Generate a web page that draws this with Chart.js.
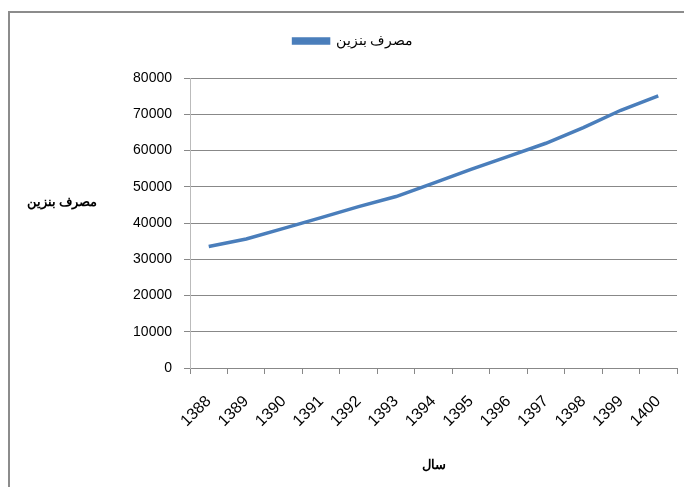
<!DOCTYPE html>
<html>
<head>
<meta charset="utf-8">
<script src="https://cdn.jsdelivr.net/npm/chart.js@4.4.1/dist/chart.umd.min.js"></script>
<style>
html,body{margin:0;padding:0;background:#fff;}
#wrap{width:684px;height:487px;position:relative;}
</style>
</head>
<body>
<div id="wrap"><canvas id="c" width="684" height="487"></canvas></div>
<script>
const years = ['1388','1389','1390','1391','1392','1393','1394','1395','1396','1397','1398','1399','1400'];
const consumption = [33500, 35600, 38500, 41500, 44500, 47300, 51000, 54800, 58400, 62000, 66300, 71100, 75100];
const seriesName = 'مصرف بنزین';
const yTitle = 'مصرف بنزین';
const xTitle = 'سال';

const FONT = "'Liberation Sans', Arial, sans-serif";

const decor = {
  id: 'decor',
  beforeInit(chart) {
    const lg = chart.legend;
    if (lg) {
      const fit = lg.fit.bind(lg);
      lg.fit = function() { fit(); this.height = 78; };
    }
  },
  afterDraw(chart) {
    const ctx = chart.ctx;
    ctx.save();
    ctx.strokeStyle = '#8c8c8c';
    ctx.lineWidth = 2;
    ctx.beginPath();
    ctx.moveTo(9, 487);
    ctx.lineTo(9, 12);
    ctx.lineTo(684, 12);
    ctx.stroke();
    ctx.fillStyle = '#000';
    ctx.font = "bold 13px " + FONT;
    ctx.textAlign = 'center';
    ctx.textBaseline = 'middle';
    ctx.fillText(yTitle, 62, 202);
    ctx.restore();
  }
};

new Chart(document.getElementById('c'), {
  type: 'line',
  data: {
    labels: years,
    datasets: [{
      label: seriesName,
      data: consumption,
      borderColor: '#4a7ebb',
      backgroundColor: '#4a7ebb',
      borderWidth: 3.5,
      pointRadius: 0,
      tension: 0,
      fill: false
    }]
  },
  options: {
    responsive: false,
    animation: false,
    devicePixelRatio: 1,
    layout: { padding: { left: 30, right: 7, top: 0, bottom: 10 } },
    plugins: {
      legend: {
        position: 'top',
        labels: {
          boxWidth: 35,
          boxHeight: 4,
          padding: 34,
          color: '#000',
          font: { family: FONT, size: 14 }
        }
      },
      tooltip: { enabled: false }
    },
    scales: {
      x: {
        type: 'category',
        offset: true,
        afterFit: (s) => { s.height = 487 - 368 - 10; s.paddingRight = 0; s.paddingLeft = 0; },
        grid: { offset: true, drawOnChartArea: false, drawTicks: true, tickLength: 6, color: '#888' },
        border: { color: '#888', width: 1 },
        ticks: { color: '#000', font: { family: FONT, size: 16 }, minRotation: 45, maxRotation: 45, padding: 18, autoSkip: false },
        title: { display: true, text: xTitle, color: '#000', font: { family: FONT, size: 13, weight: 'bold' }, padding: { top: 4, bottom: 4 } }
      },
      y: {
        min: 0,
        max: 80000,
        afterFit: (s) => { s.width = 160; },
        grid: { color: '#888', tickLength: 6, lineWidth: 1 },
        border: { color: '#bbb', width: 1 },
        ticks: { stepSize: 10000, color: '#000', font: { family: FONT, size: 14 }, padding: 12, callback: (v) => String(v) }
      }
    }
  },
  plugins: [decor]
});
</script>
</body>
</html>
